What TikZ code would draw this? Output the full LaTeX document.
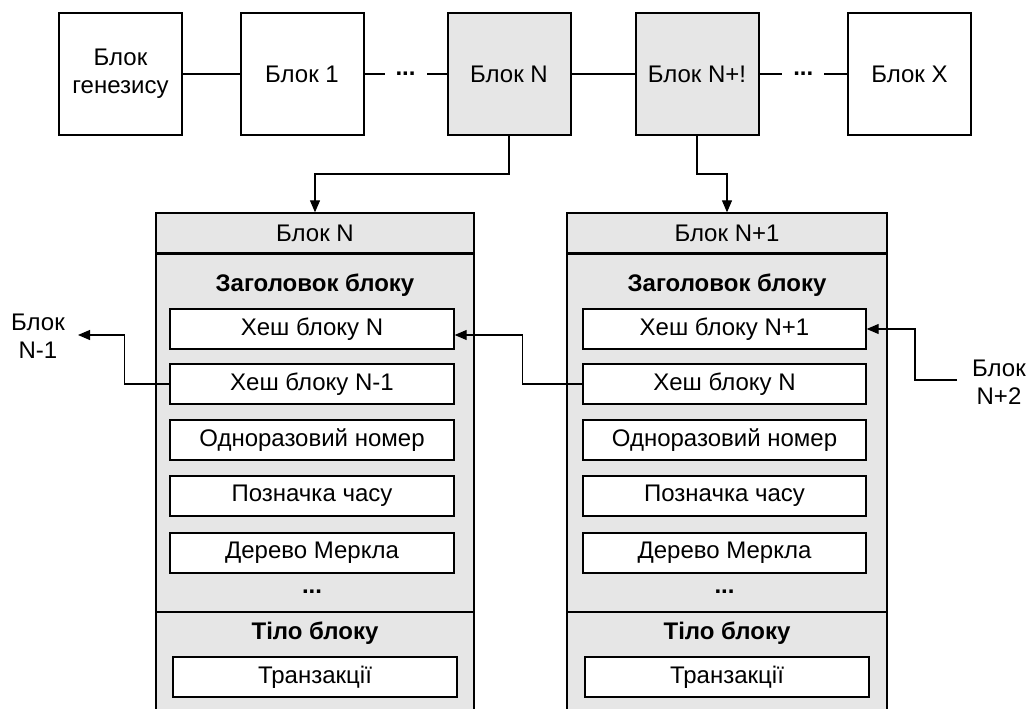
\documentclass[tikz,border=0pt]{standalone}
\usepackage{fontspec}
\setmainfont{Liberation Sans}
\usetikzlibrary{arrows.meta,calc}
\definecolor{boxgray}{HTML}{E6E6E6}
\begin{document}
\begin{tikzpicture}[x=0.75pt,y=-0.75pt,
  font=\fontsize{18}{21}\selectfont,
  topbox/.style={draw, line width=1.5pt, minimum width=92.25pt, minimum height=91.5pt, inner sep=0pt, align=center},
  colbox/.style={draw, fill=boxgray, line width=1pt, inner sep=0pt},
  field/.style={draw, fill=white, line width=1pt, minimum width=213pt, minimum height=30pt, inner sep=0pt},
  conn/.style={line width=0.8pt},
  arr/.style={conn, -{Triangle[length=9pt,width=7.5pt]}},
  gapdots/.style={fill=white, inner sep=0pt, minimum width=31.5pt, minimum height=10pt, anchor=base, yshift=-0.9pt, font=\fontsize{18}{21}\selectfont\bfseries},
  sect/.style={inner sep=0pt, font=\fontsize{18}{21}\selectfont\bfseries},
  ext/.style={align=center, inner sep=0pt}
]
\clip (0,0) rectangle (1030,709);
\fill[white] (0,0) rectangle (1030,709);

% top chain
\node[topbox] (gen) at (120.5,74) {Блок\\генезису};
\node[topbox] (b1) at (302,74) {Блок 1};
\node[topbox, fill=boxgray] (bN) at (509,74) {Блок N};
\node[topbox, fill=boxgray] (bN1) at (697,74) {Блок N+!};
\node[topbox] (bX) at (909.5,74) {Блок X};

\draw[conn] (gen) -- (b1);
\draw[conn] (b1) -- (bN) node[midway, gapdots] {...};
\draw[conn] (bN) -- (bN1);
\draw[conn] (bN1) -- (bX) node[midway, gapdots] {...};

% left column
\node[colbox, minimum width=238.5pt, minimum height=30pt] (hdrL) at (315,233) {Блок N};
\node[colbox, minimum width=238.5pt, minimum height=267.75pt, anchor=north] (headL) at (hdrL.south) {};
\node[colbox, minimum width=238.5pt, minimum height=97.5pt, anchor=north] (bodyL) at (headL.south) {};
\node[sect] (tL) at (315,285) {Заголовок блоку};
\node[field] (hNL) at (312,329) {Хеш блоку N};
\node[field] (hN1L) at (312,384) {Хеш блоку N-1};
\node[field] (nonceL) at (312,440) {Одноразовий номер};
\node[field] (timeL) at (312,496) {Позначка часу};
\node[field] (merkL) at (312,553) {Дерево Меркла};
\node[sect] (dotsL) at (312,592) {...};
\node[sect] (bodytL) at (315,633) {Тіло блоку};
\node[field] (txL) at (315,677) {Транзакції};

% right column
\node[colbox, minimum width=240pt, minimum height=30pt] (hdrR) at (727,233) {Блок N+1};
\node[colbox, minimum width=240pt, minimum height=267.75pt, anchor=north] (headR) at (hdrR.south) {};
\node[colbox, minimum width=240pt, minimum height=97.5pt, anchor=north] (bodyR) at (headR.south) {};
\node[sect] (tR) at (727,285) {Заголовок блоку};
\node[field, minimum width=212.25pt] (hN1R) at (724.5,329) {Хеш блоку N+1};
\node[field, minimum width=212.25pt] (hNR) at (724.5,384) {Хеш блоку N};
\node[field, minimum width=212.25pt] (nonceR) at (724.5,440) {Одноразовий номер};
\node[field, minimum width=212.25pt] (timeR) at (724.5,496) {Позначка часу};
\node[field, minimum width=212.25pt] (merkR) at (724.5,553) {Дерево Меркла};
\node[sect] (dotsR) at (724.5,592) {...};
\node[sect] (bodytR) at (727,633) {Тіло блоку};
\node[field] (txR) at (727,677) {Транзакції};

% top to columns
\draw[arr] (bN.south) -- ++(0,38) -| (hdrL.north);
\draw[arr] (bN1.south) -- ++(0,38) -| (hdrR.north);

% side labels
\node[ext] (labL) at (38,336) {Блок\\N-1};
\coordinate (tipL) at (78,335);
\node[ext] (labR) at (999,382) {Блок\\N+2};
\coordinate (srcR) at (957,380);

% hash links
\draw[arr] (hN1L.west) -- ++(-45,0) |- (tipL);
\draw[arr] (hNR.west) -- ++(-60,0) |- ($(hNL.east)+(0,6)$);
\draw[arr] (srcR) -- ++(-42,0) |- (hN1R.east);
\end{tikzpicture}
\end{document}
